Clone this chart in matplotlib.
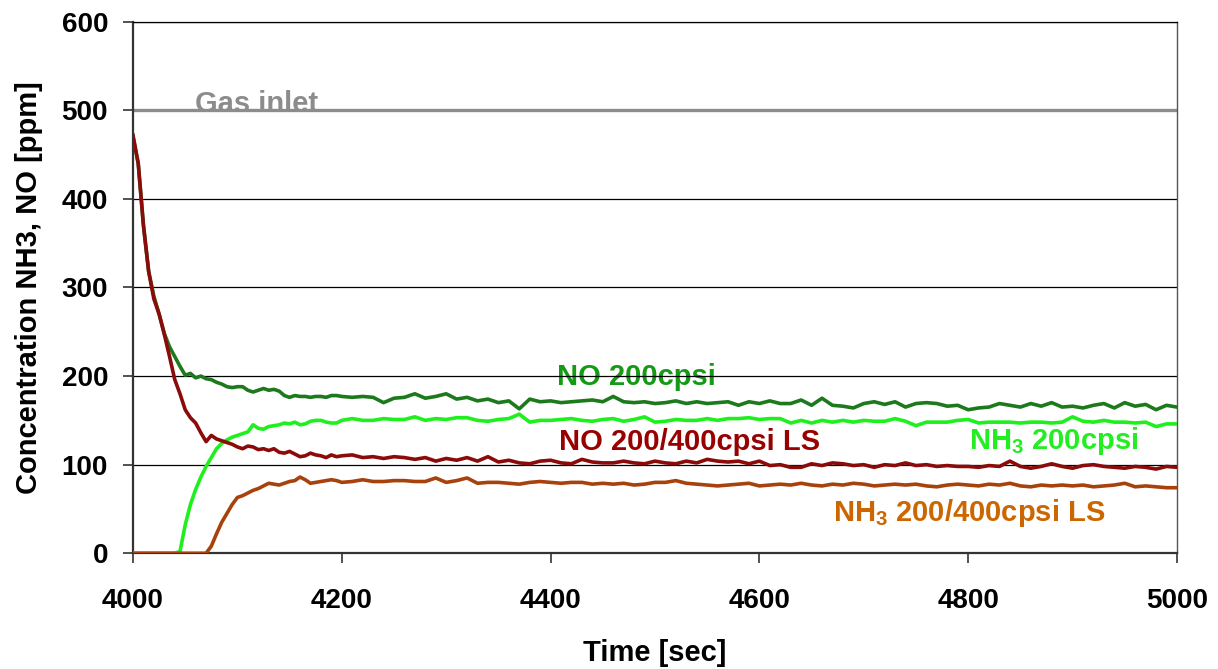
import numpy as np
import matplotlib
matplotlib.use("Agg")
import matplotlib.pyplot as plt

plt.rcParams['font.family'] = ['Liberation Sans', 'DejaVu Sans']
plt.rcParams['font.weight'] = 'bold'
plt.rcParams['mathtext.fontset'] = 'custom'
plt.rcParams['mathtext.rm'] = 'Liberation Sans:bold'
plt.rcParams['mathtext.default'] = 'rm'

# ---- data ----
time_early = np.arange(4000, 4201, 5)
time_late = np.arange(4210, 5001, 10)
time = np.concatenate([time_early, time_late])

no_200 = [470, 440, 370, 318, 290, 270, 248, 233, 222, 211,
          201, 203, 198, 200, 197, 196, 193, 191, 188, 187,
          188, 188, 184, 182, 184, 186, 184, 185, 183, 178,
          176, 178, 177, 177, 176, 177, 177, 176, 178, 178,
          177,
          176, 177, 176, 170, 175, 176, 180, 175, 177, 180,
          174, 176, 172, 174, 170, 172, 163, 174, 171, 172,
          170, 171, 172, 173, 171, 177, 171, 170, 171, 169,
          170, 172, 169, 171, 169, 170, 171, 167, 171, 169,
          172, 169, 169, 173, 167, 175, 167, 166, 164, 169,
          171, 168, 171, 165, 169, 170, 169, 166, 167, 162,
          164, 165, 169, 167, 165, 169, 166, 170, 165, 166,
          164, 167, 169, 164, 170, 166, 168, 162, 167, 165]

nh3_200 = [0, 0, 0, 0, 0, 0, 0, 0, 0, 2,
           32, 55, 72, 86, 98, 108, 118, 124, 128, 131,
           133, 135, 137, 145, 141, 140, 143, 144, 145, 147,
           146, 148, 145, 146, 149, 150, 150, 148, 147, 147,
           150,
           152, 150, 150, 152, 151, 151, 154, 150, 152, 151,
           153, 153, 150, 149, 151, 152, 157, 148, 150, 150,
           151, 152, 150, 149, 151, 152, 149, 151, 154, 148,
           149, 151, 150, 150, 152, 150, 152, 152, 153, 151,
           152, 152, 147, 150, 147, 150, 148, 150, 148, 150,
           149, 149, 152, 149, 144, 148, 148, 148, 150, 151,
           147, 148, 148, 148, 147, 148, 148, 147, 148, 154,
           149, 148, 150, 148, 148, 147, 148, 143, 146, 146]

no_ls = [472, 440, 370, 318, 287, 270, 247, 222, 196, 180,
         162, 153, 147, 136, 126, 133, 129, 127, 125, 123,
         120, 118, 121, 120, 117, 118, 116, 118, 114, 113,
         115, 112, 109, 110, 113, 111, 110, 108, 111, 109,
         110,
         111, 108, 109, 107, 109, 108, 106, 108, 104, 107,
         105, 108, 104, 109, 103, 105, 102, 101, 104, 105,
         102, 101, 106, 103, 102, 102, 104, 102, 101, 104,
         102, 101, 104, 102, 106, 104, 103, 104, 101, 104,
         99, 100, 97, 97, 101, 99, 102, 101, 99, 100,
         97, 100, 99, 102, 99, 100, 98, 99, 98, 98,
         97, 99, 98, 104, 98, 96, 98, 101, 98, 96,
         99, 100, 98, 97, 96, 98, 97, 95, 98, 97]

nh3_ls = [0, 0, 0, 0, 0, 0, 0, 0, 0, 0,
          0, 0, 0, 0, 0, 8, 22, 35, 45, 55,
          63, 65, 68, 71, 73, 76, 79, 78, 77, 79,
          81, 82, 86, 83, 79, 80, 81, 82, 83, 82,
          80,
          81, 83, 81, 81, 82, 82, 81, 81, 85, 80,
          82, 85, 79, 80, 80, 79, 78, 80, 81, 80,
          79, 80, 80, 78, 79, 78, 79, 77, 78, 80,
          80, 82, 79, 78, 77, 76, 77, 78, 79, 76,
          77, 78, 77, 79, 77, 76, 78, 77, 79, 78,
          76, 77, 78, 77, 78, 76, 75, 77, 78, 77,
          76, 78, 77, 79, 76, 75, 77, 76, 77, 76,
          77, 75, 76, 77, 79, 75, 76, 75, 74, 74]

gas_inlet = 500
x_ticks = [4000, 4200, 4400, 4600, 4800, 5000]
y_ticks = [0, 100, 200, 300, 400, 500, 600]

# ---- figure ----
fig = plt.figure(figsize=(12.18, 6.69), dpi=100)
ax = fig.add_axes([0.1092, 0.1730, 0.9663 - 0.1092, 0.9676 - 0.1730])

ax.set_xlim(4000, 5000)
ax.set_ylim(0, 600)
ax.set_axisbelow(True)
ax.yaxis.grid(True, color='black', linewidth=0.9)
ax.xaxis.grid(False)

ax.axhline(gas_inlet, color='#8c8c8c', linewidth=2.4, zorder=2)

lw = 2.6
ax.plot(time, no_200, color='#1c7a1c', linewidth=lw, zorder=3)
ax.plot(time, nh3_200, color='#1ef01e', linewidth=lw, zorder=3)
ax.plot(time, no_ls, color='#8b0a0a', linewidth=lw, zorder=3)
ax.plot(time, nh3_ls, color='#a8420c', linewidth=lw, zorder=3)

fs = 21
tk = dict(fontsize=fs, fontweight='bold', zorder=0.3)
ax.text(4059, 498, 'Gas inlet', color='#8c8c8c', ha='left', va='baseline', **tk)
ax.text(4406, 190, 'NO 200cpsi', color='#149a14', ha='left', va='baseline', **tk)
ax.text(4408, 116.5, 'NO 200/400cpsi LS', color='#990000', ha='left', va='baseline', **tk)
ax.text(4801, 117.5, r'NH$_3$ 200cpsi', color='#22ee22', ha='left', va='baseline', **tk)
ax.text(4671, 36.5, r'NH$_3$ 200/400cpsi LS', color='#cc6600', ha='left', va='baseline', **tk)

ax.set_xticks(x_ticks)
ax.set_yticks(y_ticks)
ax.tick_params(axis='x', direction='out', length=7, width=1.2, pad=18,
               labelsize=20, colors='#333333', labelcolor='black')
ax.tick_params(axis='y', direction='out', length=7, width=1.2, pad=11,
               labelsize=20, colors='#333333', labelcolor='black')
for lab in ax.get_xticklabels() + ax.get_yticklabels():
    lab.set_fontweight('bold')

for side in ['left', 'bottom']:
    ax.spines[side].set_color('#333333')
    ax.spines[side].set_linewidth(1.6)
ax.spines['right'].set_color('#555555')
ax.spines['right'].set_linewidth(1.0)
ax.spines['top'].set_color('black')
ax.spines['top'].set_linewidth(0.9)

ax.set_xlabel('Time [sec]', fontsize=21, fontweight='bold', labelpad=18)
ax.set_ylabel('Concentration NH3, NO [ppm]', fontsize=21, fontweight='bold', labelpad=13)

fig.savefig('out.png', dpi=100)
